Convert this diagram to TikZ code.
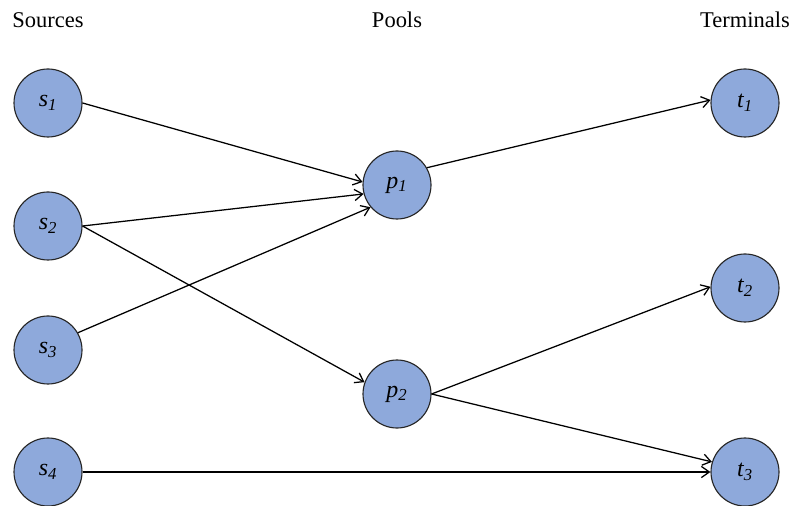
\documentclass[tikz,border=0pt]{standalone}
\usepackage{fontspec}
\usetikzlibrary{arrows.meta}
\setmainfont{Liberation Serif}
\definecolor{poolblue}{HTML}{8EA9DB}
\newcommand{\vname}[2]{\textit{#1\textsubscript{#2}}}
\tikzset{
    vert/.style={circle, draw=black!85, fill=poolblue, line width=0.8pt, minimum size=1.7cm, inner sep=0pt, font=\fontsize{17}{19}\selectfont},
    head/.style={font=\fontsize{16}{19}\selectfont},
    flow/.style={-{Straight Barb[length=2mm,width=2.8mm]}, line width=0.9pt}
}
\begin{document}
\begin{tikzpicture}
    \useasboundingbox (0,0) rectangle (19.85,-12.65);
        % Column titles
        \node[head] (hs) at (1.2,-0.5) {Sources};
        \node[head] (hp) at (9.925,-0.5) {Pools};
        \node[head] (ht) at (18.625,-0.5) {Terminals};

        % Define the sources
        \node[vert] (s1) at (1.2,-2.575) {\vname{s}{1}};
        \node[vert] (s2) at (1.2,-5.65) {\vname{s}{2}};
        \node[vert] (s3) at (1.2,-8.75) {\vname{s}{3}};
        \node[vert] (s4) at (1.2,-11.8) {\vname{s}{4}};

        % Define the pools
        \node[vert] (p1) at (9.925,-4.625) {\vname{p}{1}};
        \node[vert] (p2) at (9.925,-9.85) {\vname{p}{2}};

        % Define the terminals
        \node[vert] (t1) at (18.625,-2.575) {\vname{t}{1}};
        \node[vert] (t2) at (18.625,-7.2) {\vname{t}{2}};
        \node[vert] (t3) at (18.625,-11.8) {\vname{t}{3}};

        % Draw arrows
        \draw[flow] (s1.east) -- (p1.175);
        \draw[flow] (s2.east) -- (p1.195);
        \draw[flow] (s3.30) -- (p1.220);
        \draw[flow] (s2.east) -- (p2.160);
        \draw[flow] (s4.east) -- (t3.west);
        \draw[flow] (p1.30) -- (t1.175);
        \draw[flow] (p2.east) -- (t2.178);
        \draw[flow] (p2.east) -- (t3.163);
    \end{tikzpicture}
\end{document}
